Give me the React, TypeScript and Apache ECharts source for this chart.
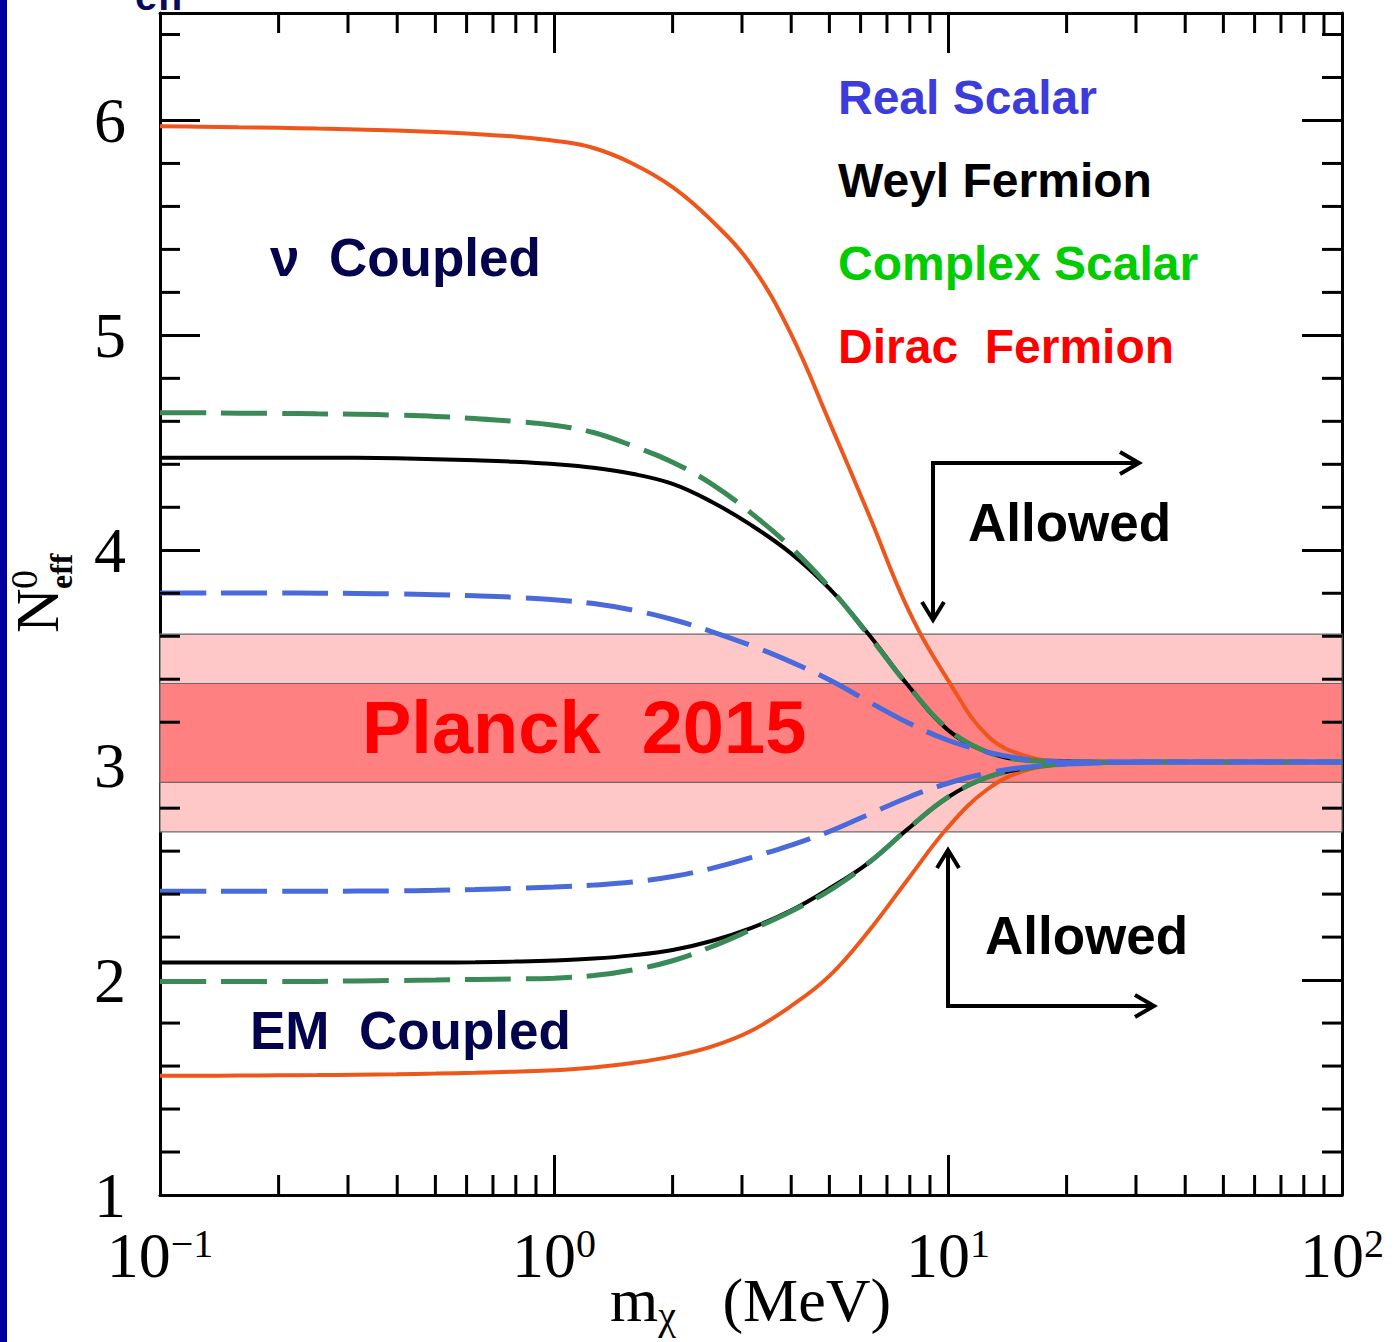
import React, { useEffect, useRef } from "react";
import * as echarts from "echarts";

// Dark-matter mass grid (MeV), 0.1-decade steps
const MASS = [0.1, 0.126, 0.158, 0.2, 0.251, 0.316, 0.398, 0.501, 0.631, 0.794, 1, 1.26, 1.58, 2, 2.51, 3.16, 3.98, 5.01, 6.31, 7.94, 10, 12.6, 15.8, 20, 25.1, 31.6, 39.8, 50.1, 63.1, 79.4, 100];

// nu-coupled (upper branch)
const DIRAC_NU = [5.973, 5.971, 5.968, 5.966, 5.962, 5.958, 5.953, 5.946, 5.937, 5.925, 5.906, 5.872, 5.8, 5.69, 5.535, 5.33, 5.013, 4.594, 4.162, 3.722, 3.396, 3.137, 3.042, 3.019, 3.016, 3.015, 3.015, 3.015, 3.015, 3.015, 3.015];
const WEYL_NU = [4.431, 4.431, 4.431, 4.431, 4.431, 4.43, 4.428, 4.424, 4.419, 4.412, 4.401, 4.384, 4.356, 4.309, 4.226, 4.118, 3.988, 3.82, 3.606, 3.368, 3.163, 3.061, 3.023, 3.017, 3.015, 3.015, 3.015, 3.015, 3.015, 3.015, 3.015];
const COMPLEX_NU = [4.64, 4.64, 4.638, 4.637, 4.635, 4.633, 4.629, 4.623, 4.613, 4.6, 4.582, 4.548, 4.486, 4.41, 4.309, 4.174, 4.016, 3.825, 3.601, 3.368, 3.168, 3.061, 3.023, 3.017, 3.015, 3.015, 3.015, 3.015, 3.015, 3.015, 3.015];
const REAL_NU = [3.801, 3.801, 3.801, 3.801, 3.8, 3.799, 3.797, 3.793, 3.788, 3.781, 3.77, 3.752, 3.722, 3.678, 3.622, 3.557, 3.482, 3.396, 3.294, 3.196, 3.116, 3.061, 3.028, 3.016, 3.015, 3.015, 3.015, 3.015, 3.015, 3.015, 3.015];

// EM-coupled (lower branch)
const DIRAC_EM = [1.555, 1.555, 1.556, 1.557, 1.558, 1.56, 1.562, 1.565, 1.569, 1.574, 1.58, 1.593, 1.614, 1.645, 1.69, 1.763, 1.877, 2.021, 2.231, 2.473, 2.711, 2.888, 2.977, 3.006, 3.012, 3.015, 3.015, 3.015, 3.015, 3.015, 3.015];
const WEYL_EM = [2.082, 2.082, 2.082, 2.082, 2.082, 2.082, 2.082, 2.082, 2.083, 2.086, 2.091, 2.1, 2.115, 2.14, 2.182, 2.242, 2.322, 2.427, 2.548, 2.706, 2.851, 2.944, 2.986, 3.006, 3.012, 3.015, 3.015, 3.015, 3.015, 3.015, 3.015];
const COMPLEX_EM = [1.993, 1.993, 1.993, 1.993, 1.994, 1.996, 1.998, 2.0, 2.003, 2.005, 2.009, 2.021, 2.047, 2.09, 2.155, 2.234, 2.318, 2.418, 2.548, 2.706, 2.851, 2.944, 2.986, 3.006, 3.012, 3.015, 3.015, 3.015, 3.015, 3.015, 3.015];
const REAL_EM = [2.413, 2.413, 2.413, 2.413, 2.413, 2.414, 2.415, 2.418, 2.422, 2.427, 2.433, 2.442, 2.456, 2.482, 2.52, 2.57, 2.627, 2.692, 2.772, 2.851, 2.916, 2.963, 2.991, 3.005, 3.012, 3.015, 3.015, 3.015, 3.015, 3.015, 3.015];

// Planck 2015 band
const PLANCK_CENTER = 3.15;
const PLANCK_1SIGMA = 0.23;
const PLANCK_2SIGMA = 0.46;

// Axis tick values
const Y_MAJOR = [1, 2, 3, 4, 5, 6];
const Y_MINOR = [1.2, 1.4, 1.6, 1.8, 2.2, 2.4, 2.6, 2.8, 3.2, 3.4, 3.6, 3.8, 4.2, 4.4, 4.6, 4.8, 5.2, 5.4, 5.6, 5.8, 6.2, 6.4];
const X_MINOR = [0.2, 0.3, 0.4, 0.5, 0.6, 0.7, 0.8, 0.9, 2, 3, 4, 5, 6, 7, 8, 9, 20, 30, 40, 50, 60, 70, 80, 90];

const SERIF = "'Liberation Serif', 'DejaVu Serif', serif";
const SANS = "'Liberation Sans', Arial, sans-serif";

const ORANGE = "#EE561C";
const GREEN = "#3A8A58";
const BLUE = "#4A6ADC";

const pairs = (ys: number[]) => MASS.map((m, i) => [m, ys[i]]);

export default function App() {
  const ref = useRef<HTMLDivElement>(null);
  useEffect(() => {
    if (!ref.current) return;
    const chart = echarts.init(ref.current, null, { renderer: "svg" });

    const xLabelFmt = (v: number) => {
      const e = Math.round(Math.log10(v));
      return `{b|10}{s|${e < 0 ? "\u2212" + -e : e}}`;
    };
    const xRich = {
      b: { fontFamily: SERIF, fontSize: 64, color: "#000", lineHeight: 64 },
      s: { fontFamily: SERIF, fontSize: 40, color: "#000", verticalAlign: "top", lineHeight: 64 },
    };

    const axisLine = { show: true, lineStyle: { color: "#000", width: 3 } };
    const axisTick = { show: true, inside: true, length: 40, lineStyle: { color: "#000", width: 3 } };

    const curve = (name: string, ys: number[], color: string, dashed: boolean, z: number) => ({
      type: "line",
      name,
      data: pairs(ys),
      symbol: "none",
      smooth: 0.4,
      z,
      lineStyle: {
        color,
        width: dashed ? 5 : 4,
        type: dashed ? [46, 15] : "solid",
      },
    });

    const option: any = {
      animation: false,
      backgroundColor: "#fff",
      grid: { left: 160, right: 57, top: 13, bottom: 147, containLabel: false },
      xAxis: [
        {
          type: "log",
          logBase: 10,
          min: 0.1,
          max: 100,
          position: "bottom",
          axisLine,
          axisTick,
          splitLine: { show: false },
          axisLabel: { margin: 28, formatter: xLabelFmt, rich: xRich },
        },
        {
          type: "log",
          logBase: 10,
          min: 0.1,
          max: 100,
          position: "top",
          axisLine,
          axisTick,
          splitLine: { show: false },
          axisLabel: { show: false },
        },
      ],
      yAxis: [
        {
          type: "value",
          min: 1,
          max: 6.5,
          interval: 1,
          position: "left",
          axisLine,
          axisTick,
          splitLine: { show: false },
          axisLabel: {
            margin: 34,
            fontFamily: SERIF,
            fontSize: 64,
            color: "#000",
            formatter: (v: number) => (Y_MAJOR.includes(v) ? String(v) : ""),
          },
        },
        {
          type: "value",
          min: 1,
          max: 6.5,
          interval: 1,
          position: "right",
          axisLine,
          axisTick,
          splitLine: { show: false },
          axisLabel: { show: false },
        },
      ],
      series: [
        {
          type: "line",
          name: "Planck 2015",
          data: [],
          z: 1,
          markArea: {
            silent: true,
            itemStyle: { borderColor: "#6a6a6a", borderWidth: 1.2, opacity: 1 },
            data: [
              [
                { yAxis: PLANCK_CENTER - PLANCK_2SIGMA, itemStyle: { color: "#FFC8C8", borderColor: "#6a6a6a", borderWidth: 1.2 } },
                { yAxis: PLANCK_CENTER + PLANCK_2SIGMA },
              ],
              [
                { yAxis: PLANCK_CENTER - PLANCK_1SIGMA, itemStyle: { color: "#FF8080", borderColor: "#6a6a6a", borderWidth: 1.2 } },
                { yAxis: PLANCK_CENTER + PLANCK_1SIGMA },
              ],
            ],
          },
        },
        curve("Dirac Fermion (\u03bd coupled)", DIRAC_NU, ORANGE, false, 3),
        curve("Dirac Fermion (EM coupled)", DIRAC_EM, ORANGE, false, 3),
        curve("Weyl Fermion (\u03bd coupled)", WEYL_NU, "#000", false, 4),
        curve("Weyl Fermion (EM coupled)", WEYL_EM, "#000", false, 4),
        curve("Complex Scalar (\u03bd coupled)", COMPLEX_NU, GREEN, true, 5),
        curve("Complex Scalar (EM coupled)", COMPLEX_EM, GREEN, true, 5),
        curve("Real Scalar (\u03bd coupled)", REAL_NU, BLUE, true, 6),
        curve("Real Scalar (EM coupled)", REAL_EM, BLUE, true, 6),
        {
          type: "custom",
          name: "x minor ticks",
          xAxisIndex: 0,
          yAxisIndex: 0,
          z: 10,
          silent: true,
          clip: false,
          data: X_MINOR.map((v) => [v, 1]),
          renderItem: (params: any, api: any) => {
            const v = api.value(0);
            const b = api.coord([v, 1]);
            const t = api.coord([v, 6.5]);
            const st = { stroke: "#000", lineWidth: 3 };
            return {
              type: "group",
              children: [
                { type: "line", shape: { x1: b[0], y1: b[1], x2: b[0], y2: b[1] - 20 }, style: st },
                { type: "line", shape: { x1: t[0], y1: t[1], x2: t[0], y2: t[1] + 20 }, style: st },
              ],
            };
          },
        },
        {
          type: "custom",
          name: "y minor ticks",
          xAxisIndex: 0,
          yAxisIndex: 0,
          z: 10,
          silent: true,
          clip: false,
          data: Y_MINOR.map((v) => [0.1, v]),
          renderItem: (params: any, api: any) => {
            const v = api.value(1);
            const l = api.coord([0.1, v]);
            const r = api.coord([100, v]);
            const st = { stroke: "#000", lineWidth: 3 };
            return {
              type: "group",
              children: [
                { type: "line", shape: { x1: l[0], y1: l[1], x2: l[0] + 20, y2: l[1] }, style: st },
                { type: "line", shape: { x1: r[0], y1: r[1], x2: r[0] - 20, y2: r[1] }, style: st },
              ],
            };
          },
        },
      ],
      graphic: [
        { type: "rect", left: 0, top: 0, shape: { x: 0, y: 0, width: 7, height: 1342 }, style: { fill: "#0000A0" } },
        {
          type: "text",
          x: 135,
          y: 16,
          style: { text: "eff", font: `bold 40px ${SANS}`, fill: "#0A0A5A", verticalAlign: "bottom" },
        },
        // y-axis title N^0_eff
        {
          type: "group",
          x: 37,
          y: 633,
          rotation: Math.PI / 2,
          children: [
            { type: "text", x: 0, y: 0, style: { text: "N", font: `62px ${SERIF}`, fill: "#000", align: "left", verticalAlign: "middle" } },
            { type: "text", x: 44, y: -13, style: { text: "0", font: `38px ${SERIF}`, fill: "#000", align: "left", verticalAlign: "middle" } },
            { type: "text", x: 44, y: 24, style: { text: "eff", font: `bold 32px ${SERIF}`, fill: "#000", align: "left", verticalAlign: "middle" } },
          ],
        },
        // x-axis title
        {
          type: "text",
          x: 610,
          y: 1300,
          style: {
            text: "{a|m}{s|\u03c7}{a|   (MeV)}",
            verticalAlign: "middle",
            rich: {
              a: { fontFamily: SERIF, fontSize: 62, fill: "#000", lineHeight: 70 },
              s: { fontFamily: SERIF, fontSize: 40, fill: "#000", verticalAlign: "bottom", lineHeight: 70 },
            },
          },
        },
        // legend-like labels
        { type: "text", x: 838, y: 97, style: { text: "Real Scalar", font: `bold 48px ${SANS}`, fill: "#3C3CDC", verticalAlign: "middle" } },
        { type: "text", x: 838, y: 180, style: { text: "Weyl Fermion", font: `bold 48px ${SANS}`, fill: "#000", verticalAlign: "middle" } },
        { type: "text", x: 838, y: 263, style: { text: "Complex Scalar", font: `bold 48px ${SANS}`, fill: "#00CC00", verticalAlign: "middle" } },
        { type: "text", x: 838, y: 346, style: { text: "Dirac  Fermion", font: `bold 48px ${SANS}`, fill: "#FF0000", verticalAlign: "middle" } },
        { type: "text", x: 270, y: 257, style: { text: "\u03bd  Coupled", font: `bold 53px ${SANS}`, fill: "#03034E", verticalAlign: "middle" } },
        { type: "text", x: 250, y: 1030, style: { text: "EM  Coupled", font: `bold 53px ${SANS}`, fill: "#03034E", verticalAlign: "middle" } },
        { type: "text", x: 362, y: 727, z: 20, style: { text: "Planck  2015", font: `bold 74px ${SANS}`, fill: "#FF0000", verticalAlign: "middle" } },
        { type: "text", x: 968, y: 522, style: { text: "Allowed", font: `bold 53px ${SANS}`, fill: "#000", verticalAlign: "middle" } },
        { type: "text", x: 985, y: 935, style: { text: "Allowed", font: `bold 53px ${SANS}`, fill: "#000", verticalAlign: "middle" } },
        // arrows
        { type: "polyline", shape: { points: [[933, 620], [933, 463], [1139, 463]] }, style: { stroke: "#000", lineWidth: 4, fill: "none" } },
        { type: "polyline", shape: { points: [[922, 602], [933, 620], [944, 602]] }, style: { stroke: "#000", lineWidth: 4, fill: "none" } },
        { type: "polyline", shape: { points: [[1120, 452], [1139, 463], [1120, 474]] }, style: { stroke: "#000", lineWidth: 4, fill: "none" } },
        { type: "polyline", shape: { points: [[948, 850], [948, 1006], [1154, 1006]] }, style: { stroke: "#000", lineWidth: 4, fill: "none" } },
        { type: "polyline", shape: { points: [[937, 868], [948, 850], [959, 868]] }, style: { stroke: "#000", lineWidth: 4, fill: "none" } },
        { type: "polyline", shape: { points: [[1135, 995], [1154, 1006], [1135, 1017]] }, style: { stroke: "#000", lineWidth: 4, fill: "none" } },
      ],
    };

    chart.setOption(option);
    return () => chart.dispose();
  }, []);

  return (
    <div
      ref={ref}
      style={{ position: "fixed", left: 0, top: 0, width: 1399, height: 1342, background: "#fff" }}
    />
  );
}
